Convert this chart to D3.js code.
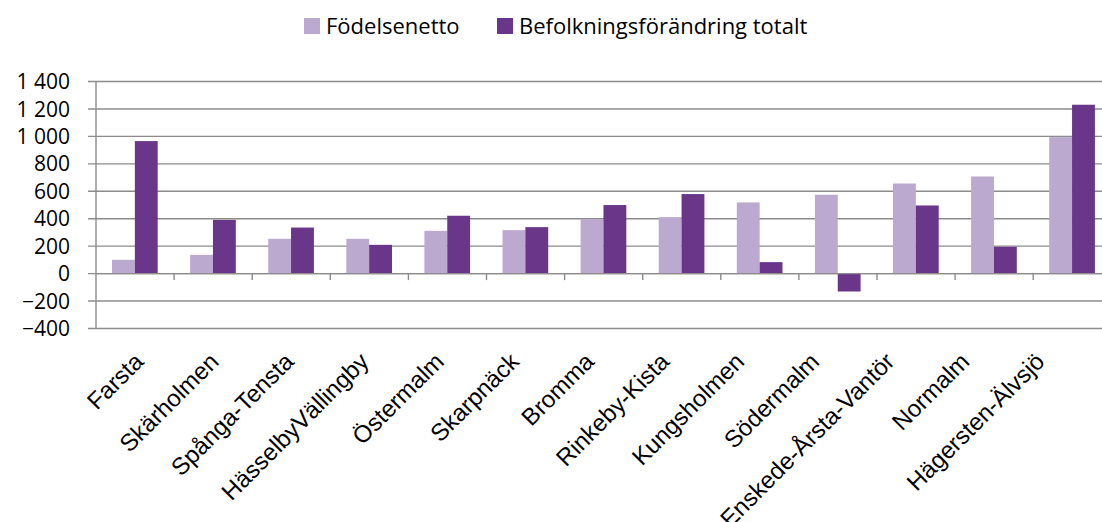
<!DOCTYPE html>
<html>
<head>
<meta charset="utf-8">
<script src="https://cdn.jsdelivr.net/npm/d3@7"></script>
<style>
  body { margin: 0; background: #fff; }
  svg { display: block; }
</style>
</head>
<body>
<div id="chart"></div>
<script>
// districts, left to right
var categories = ['Farsta', 'Skärholmen', 'Spånga-Tensta', 'HässelbyVällingby',
  'Östermalm', 'Skarpnäck', 'Bromma', 'Rinkeby-Kista', 'Kungsholmen',
  'Södermalm', 'Enskede-Årsta-Vantör', 'Normalm', 'Hägersten-Älvsjö'];

var seriesNames = ['Födelsenetto', 'Befolkningsförändring totalt'];

var fodelsenetto = [97, 133, 250, 250, 308, 313, 393, 408, 515, 571, 653, 704, 991];
var befolkningTotalt = [962, 388, 332, 206, 418, 335, 496, 576, 80, -134, 493, 192, 1227];

var yTicks = [-400, -200, 0, 200, 400, 600, 800, 1000, 1200, 1400];

var COLORS = ['#bba9cf', '#69368a'];
var W = 1102, H = 522;

var svg = d3.select('#chart').append('svg')
    .attr('width', W)
    .attr('height', H);

var plotLeft = 96, plotTop = 81, plotBottom = 328;

var x0 = d3.scaleBand()
    .domain(categories)
    .range([plotLeft, plotLeft + 13 * 78.1]);

var x1 = d3.scaleBand()
    .domain(seriesNames)
    .range([x0.bandwidth() * 0.205, x0.bandwidth() * 0.79]);

var y = d3.scaleLinear()
    .domain([-400, 1400])
    .range([plotBottom, plotTop]);

// label positions are a little squeezed compared with the bands
var xLabel = d3.scalePoint()
    .domain(categories)
    .range([145, 1046]);

function fmt(v) {
  var s = d3.format(',')(v);
  return s.replace(/,/g, ' ');
}

// gridlines + y axis
var yAxis = d3.axisLeft(y)
    .tickValues(yTicks)
    .tickSize(plotLeft - W)
    .tickFormat(fmt);

var gy = svg.append('g')
    .attr('transform', 'translate(' + W + ',0)')
    .call(yAxis);

gy.select('.domain').remove();
gy.selectAll('.tick line')
    .attr('x1', -W + plotLeft - 8)
    .attr('x2', 0)
    .attr('stroke', '#8c8c8c')
    .attr('stroke-width', 1.4);
gy.selectAll('.tick text')
    .attr('x', -W + plotLeft - 26)
    .attr('dy', '0.36em')
    .style('font-family', '"Open Sans", sans-serif')
    .style('font-size', '21px')
    .attr('fill', '#000');

svg.append('line')
    .attr('x1', plotLeft).attr('x2', plotLeft)
    .attr('y1', plotTop).attr('y2', plotBottom)
    .attr('stroke', '#8c8c8c')
    .attr('stroke-width', 1.4);

// bars
var rows = categories.map(function (c, i) {
  return { cat: c, values: [fodelsenetto[i], befolkningTotalt[i]] };
});

var groups = svg.append('g').selectAll('g')
    .data(rows)
    .enter().append('g')
    .attr('transform', function (d) { return 'translate(' + x0(d.cat) + ',0)'; });

groups.selectAll('rect')
    .data(function (d) {
      return d.values.map(function (v, j) { return { key: seriesNames[j], v: v, j: j }; });
    })
    .enter().append('rect')
    .attr('x', function (d) { return x1(d.key); })
    .attr('width', x1.bandwidth())
    .attr('y', function (d) { return y(Math.max(0, d.v)); })
    .attr('height', function (d) { return Math.abs(y(d.v) - y(0)); })
    .attr('fill', function (d) { return COLORS[d.j]; });

// category axis on zero
var xAxis = d3.axisBottom(x0)
    .tickSize(0)
    .tickFormat('');

var gx = svg.append('g')
    .attr('transform', 'translate(0,' + y(0) + ')')
    .call(xAxis);
gx.selectAll('.tick').remove();
gx.select('.domain')
    .attr('stroke', '#8c8c8c')
    .attr('stroke-width', 1.4);

gx.selectAll('.sep')
    .data(categories.slice(1))
    .enter().append('line')
    .attr('class', 'sep')
    .attr('x1', function (d) { return x0(d); })
    .attr('x2', function (d) { return x0(d); })
    .attr('y1', 0).attr('y2', 7)
    .attr('stroke', '#8c8c8c')
    .attr('stroke-width', 1.4);

// rotated labels
svg.append('g').selectAll('text')
    .data(categories)
    .enter().append('text')
    .attr('transform', function (d) {
      return 'translate(' + xLabel(d) + ',363) rotate(-45)';
    })
    .attr('text-anchor', 'end')
    .style('font-family', '"Liberation Sans", Arial, sans-serif')
    .style('font-size', '24px')
    .attr('fill', '#000')
    .text(function (d) { return d; });

// legend
var legendX = [304, 497];
var legend = svg.append('g').selectAll('g')
    .data(seriesNames)
    .enter().append('g')
    .attr('transform', function (d, i) { return 'translate(' + legendX[i] + ',18)'; });

legend.append('rect')
    .attr('width', 16).attr('height', 16)
    .attr('fill', function (d, i) { return COLORS[i]; });

legend.append('text')
    .attr('x', 22).attr('y', 16)
    .style('font-family', '"Open Sans", sans-serif')
    .style('font-size', '22px')
    .attr('fill', '#000')
    .text(function (d) { return d; });
</script>
</body>
</html>
